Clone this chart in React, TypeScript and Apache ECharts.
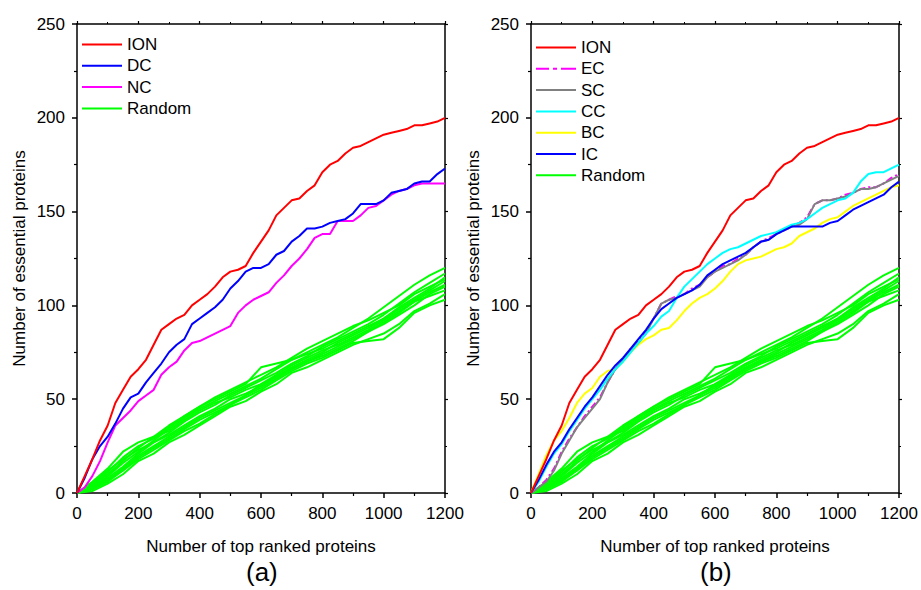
import React, { useEffect, useRef } from "react";
import * as echarts from "echarts";

// x positions: top ranked proteins, every 25 for main curves, every 50 for random curves
const STEP_MAIN = 25;
const STEP_RAND = 50;
const xTicks = [0, 200, 400, 600, 800, 1000, 1200];
const yTicks = [0, 50, 100, 150, 200, 250];

// Panel (a)
const ION = [0, 9, 18, 28, 36, 48, 55, 62, 66, 71, 79, 87, 90, 93, 95, 100, 103, 106, 110, 115, 118, 119, 121, 128, 134, 140, 148, 152, 156, 157, 161, 164, 171, 175, 177, 181, 184, 185, 187, 189, 191, 192, 193, 194, 196, 196, 197, 198, 200];
const DC = [0, 8, 18, 25, 30, 37, 45, 51, 53, 59, 64, 69, 75, 79, 82, 90, 93, 96, 99, 103, 109, 113, 118, 120, 120, 122, 127, 129, 134, 137, 141, 141, 142, 144, 145, 146, 149, 154, 154, 154, 156, 160, 161, 162, 165, 166, 166, 170, 173];
const NC = [0, 3, 9, 17, 27, 36, 40, 44, 49, 52, 55, 63, 67, 70, 76, 80, 81, 83, 85, 87, 89, 96, 100, 103, 105, 107, 112, 116, 121, 125, 130, 136, 138, 138, 145, 145, 145, 148, 152, 153, 156, 159, 161, 162, 164, 165, 165, 165, 165];

// Panel (b)
const EC = [0, 3, 7, 13, 22, 29, 35, 41, 46, 51, 59, 66, 71, 77, 81, 86, 93, 101, 103, 105, 106, 109, 111, 115, 118, 121, 122, 125, 127, 131, 134, 136, 138, 140, 142, 144, 147, 154, 156, 156, 157, 159, 160, 162, 163, 163, 165, 168, 170];
const SC = [0, 3, 6, 12, 21, 28, 35, 40, 45, 50, 59, 66, 71, 76, 80, 85, 93, 101, 103, 104, 106, 108, 110, 115, 118, 120, 122, 124, 127, 131, 134, 135, 138, 140, 142, 143, 146, 154, 156, 156, 157, 158, 160, 162, 162, 163, 165, 167, 169];
const CC = [0, 6, 14, 21, 26, 33, 39, 45, 50, 55, 61, 66, 70, 75, 80, 85, 89, 94, 97, 104, 110, 114, 118, 122, 125, 128, 130, 131, 133, 135, 137, 138, 139, 141, 143, 144, 146, 149, 152, 154, 156, 157, 160, 166, 170, 171, 171, 173, 175];
const BC = [0, 10, 20, 28, 33, 40, 48, 53, 56, 62, 65, 66, 70, 75, 79, 82, 84, 87, 88, 92, 97, 101, 104, 106, 109, 113, 118, 122, 124, 125, 126, 128, 130, 131, 133, 137, 139, 141, 144, 146, 147, 150, 153, 155, 157, 159, 161, 163, 164];
const IC = [0, 7, 15, 22, 27, 34, 40, 46, 51, 57, 63, 68, 72, 77, 82, 87, 93, 98, 101, 104, 106, 108, 111, 116, 119, 122, 124, 126, 128, 131, 134, 135, 138, 140, 142, 142, 142, 142, 142, 144, 145, 148, 151, 153, 155, 157, 159, 163, 166];

// Random rankings (same in both panels), every 50
const R1 = [0, 6, 13, 22, 27, 30, 33, 39, 44, 48, 51, 55, 58, 62, 66, 70, 74, 78, 82, 86, 90, 95, 100, 106, 110];
const R2 = [0, 4, 10, 17, 24, 30, 36, 41, 46, 50, 54, 58, 67, 69, 71, 74, 77, 81, 85, 89, 93, 98, 103, 108, 113];
const R3 = [0, 3, 9, 16, 22, 28, 34, 40, 45, 49, 53, 57, 61, 66, 71, 75, 79, 83, 88, 93, 99, 105, 111, 116, 120];
const R4 = [0, 1, 5, 10, 17, 21, 27, 31, 36, 41, 46, 49, 54, 58, 64, 67, 71, 75, 79, 82, 85, 90, 97, 101, 106];
const R5 = [0, 2, 7, 12, 19, 24, 29, 34, 39, 43, 47, 51, 55, 60, 65, 69, 72, 76, 80, 81, 82, 88, 96, 100, 103];
const R6 = [0, 3, 8, 14, 21, 27, 31, 36, 41, 45, 50, 53, 57, 62, 67, 71, 75, 80, 84, 88, 93, 99, 104, 109, 115];
const R7 = [0, 5, 12, 18, 23, 27, 32, 38, 43, 47, 52, 56, 60, 64, 69, 73, 78, 82, 86, 90, 95, 101, 107, 112, 117];
const R8 = [0, 2, 6, 12, 18, 23, 28, 33, 37, 42, 47, 52, 56, 61, 66, 70, 73, 77, 81, 86, 91, 96, 102, 105, 108];
const R9 = [0, 4, 11, 19, 25, 29, 35, 41, 46, 51, 55, 59, 63, 67, 72, 77, 81, 85, 89, 92, 96, 100, 106, 110, 114];
const R10 = [0, 3, 7, 13, 20, 25, 30, 35, 40, 44, 48, 52, 58, 63, 68, 72, 76, 79, 83, 87, 92, 97, 102, 107, 111];
const RANDOMS = [R1, R2, R3, R4, R5, R6, R7, R8, R9, R10];

const FONT = "'Liberation Sans', Arial, Helvetica, sans-serif";

const toPairs = (arr: number[], step: number) => arr.map((v, i) => [i * step, v]);

const LINE_ICON = "path://M0,0h40v2h-40z";
const DASHDOT_ICON = "path://M0,0h13v2h-13z M17,0h4v2h-4z M25,0h15v2h-15z";

export default function App() {
  const ref = useRef<HTMLDivElement>(null);
  useEffect(() => {
    if (!ref.current) return;
    const chart = echarts.init(ref.current, null, { renderer: "svg" });

    const grids = [
      { left: 77, top: 24, width: 368, height: 469 },
      { left: 531, top: 24, width: 368, height: 469 },
    ];
    const black = "#000";
    const txt = { color: black, fontSize: 17, fontFamily: FONT };
    const plain = (v: number) => String(v);

    const xAxes: any[] = [];
    const yAxes: any[] = [];
    [0, 1].forEach((g) => {
      xAxes.push({
        gridIndex: g, type: "value", min: xTicks[0], max: xTicks[xTicks.length - 1], interval: 200,
        position: "bottom",
        axisLine: { show: true, onZero: false, lineStyle: { color: black, width: 1.5 } },
        axisTick: { show: true, length: 5, lineStyle: { color: black, width: 1.5 } },
        minorTick: { show: true, splitNumber: 2, length: 3, lineStyle: { color: black, width: 1.2 } },
        axisLabel: { ...txt, margin: 12, formatter: plain },
        splitLine: { show: false },
        name: "Number of top ranked proteins", nameLocation: "middle", nameGap: 45,
        nameTextStyle: { ...txt },
      });
      xAxes.push({
        gridIndex: g, type: "value", min: 0, max: 1200, interval: 200, position: "top",
        axisLine: { show: true, onZero: false, lineStyle: { color: black, width: 1.5 } },
        axisTick: { show: true, length: 3, lineStyle: { color: black, width: 1.2 } },
        minorTick: { show: true, splitNumber: 2, length: 2, lineStyle: { color: black, width: 1 } },
        axisLabel: { show: false }, splitLine: { show: false },
      });
      yAxes.push({
        gridIndex: g, type: "value", min: yTicks[0], max: yTicks[yTicks.length - 1], interval: 50,
        position: "left",
        axisLine: { show: true, onZero: false, lineStyle: { color: black, width: 1.5 } },
        axisTick: { show: true, length: 5, lineStyle: { color: black, width: 1.5 } },
        minorTick: { show: true, splitNumber: 2, length: 3, lineStyle: { color: black, width: 1.2 } },
        axisLabel: { ...txt, margin: 12, formatter: plain },
        splitLine: { show: false },
        name: "Number of essential proteins", nameLocation: "middle", nameGap: 49,
        nameTextStyle: { ...txt },
      });
      yAxes.push({
        gridIndex: g, type: "value", min: 0, max: 250, interval: 50, position: "right",
        axisLine: { show: true, onZero: false, lineStyle: { color: black, width: 1.5 } },
        axisTick: { show: true, length: 3, lineStyle: { color: black, width: 1.2 } },
        minorTick: { show: true, splitNumber: 2, length: 2, lineStyle: { color: black, width: 1 } },
        axisLabel: { show: false }, splitLine: { show: false },
      });
    });

    const mk = (name: string, data: number[], step: number, color: string, g: number, extra: any = {}) => ({
      type: "line", name, data: toPairs(data, step),
      xAxisIndex: g * 2, yAxisIndex: g * 2,
      showSymbol: false, symbol: "none",
      lineStyle: { color, width: 2, ...(extra.lineStyle || {}) },
      itemStyle: { color },
      silent: true,
    });

    const series: any[] = [];
    // panel (a)
    RANDOMS.forEach((r) => series.push(mk("Random", r, STEP_RAND, "#00ff00", 0)));
    series.push(mk("NC", NC, STEP_MAIN, "#ff00ff", 0));
    series.push(mk("DC", DC, STEP_MAIN, "#0000ff", 0));
    series.push(mk("ION", ION, STEP_MAIN, "#ff0000", 0));
    // panel (b)
    RANDOMS.forEach((r) => series.push(mk("Random", r, STEP_RAND, "#00ff00", 1)));
    series.push(mk("BC", BC, STEP_MAIN, "#ffff00", 1));
    series.push(mk("EC", EC, STEP_MAIN, "#ff00ff", 1, { lineStyle: { type: [7, 3, 2, 3] } }));
    series.push(mk("SC", SC, STEP_MAIN, "#808080", 1));
    series.push(mk("CC", CC, STEP_MAIN, "#00ffff", 1));
    series.push(mk("IC", IC, STEP_MAIN, "#0000ff", 1));
    series.push(mk("ION", ION, STEP_MAIN, "#ff0000", 1));

    const legendBase = {
      orient: "vertical", itemWidth: 40, itemHeight: 2, itemGap: 4.5,
      textStyle: { ...txt, lineHeight: 17 },
      selectedMode: false, icon: LINE_ICON,
    };
    const item = (name: string) => ({ name, icon: name === "EC" ? DASHDOT_ICON : LINE_ICON });

    chart.setOption({
      animation: false,
      backgroundColor: "#fff",
      grid: grids,
      xAxis: xAxes,
      yAxis: yAxes,
      legend: [
        { ...legendBase, left: 77, top: 31, itemGap: 4.3, data: ["ION", "DC", "NC", "Random"].map(item) },
        { ...legendBase, left: 531, top: 34, itemGap: 4.3, data: ["ION", "EC", "SC", "CC", "BC", "IC", "Random"].map(item) },
      ],
      series,
      graphic: [
        { type: "text", left: 246, top: 559, style: { text: "(a)", font: `26px ${FONT}`, fill: black } },
        { type: "text", left: 700, top: 559, style: { text: "(b)", font: `26px ${FONT}`, fill: black } },
      ],
    });
    return () => chart.dispose();
  }, []);
  return (
    <div
      ref={ref}
      style={{ position: "fixed", left: 0, top: 0, width: 921, height: 590, background: "#fff" }}
    />
  );
}
